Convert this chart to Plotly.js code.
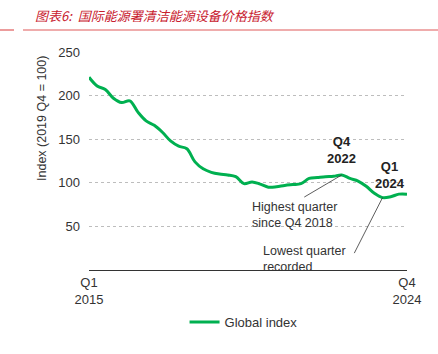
<!DOCTYPE html>
<html>
<head>
<meta charset="utf-8">
<script src="https://cdn.plot.ly/plotly-3.0.1.min.js"></script>
<style>
html,body{margin:0;padding:0;background:#fff;}
#chart{width:438px;height:354px;}
</style>
</head>
<body>
<div id="chart"></div>
<script>
// Quarterly index, Q1 2015 .. Q4 2024 (2019 Q4 = 100)
const quarters = [];
for (let y = 2015; y <= 2024; y++) { for (let q = 1; q <= 4; q++) quarters.push('Q' + q + ' ' + y); }
const globalIndex = [
  221, 211, 207, 197, 192, 194, 181, 171, 166, 158,
  148, 142, 139, 124, 116, 112, 110, 109, 107, 99,
  101, 98.5, 95, 95.5, 97, 98, 99, 105, 106, 107,
  107.5, 109, 105, 102, 96, 88, 83, 84, 87, 87
];
const xTickLabels = ['Q1<br>2015', 'Q4<br>2024'];
const yTicks = [50, 100, 150, 200, 250];

const xIdx = quarters.map((_, i) => i);
const iHigh = quarters.indexOf('Q4 2022');
const iLow = quarters.indexOf('Q1 2024');

const trace = {
  x: xIdx, y: globalIndex, type: 'scatter', mode: 'lines',
  name: 'Global index',
  line: {color: '#00b050', width: 3, shape: 'spline', smoothing: 1},
  hoverinfo: 'skip'
};

const F = 'Liberation Sans, Arial, sans-serif';
const layout = {
  width: 438, height: 354,
  margin: {l: 89, r: 31, t: 52, b: 84},
  paper_bgcolor: '#fff', plot_bgcolor: '#fff',
  font: {family: F, size: 13, color: '#333'},
  showlegend: true,
  legend: {orientation: 'h', x: 0.486, xanchor: 'center', y: -0.17, yanchor: 'top',
           font: {size: 13, color: '#333'}, itemwidth: 30},
  xaxis: {
    range: [0, quarters.length - 1], showgrid: false, zeroline: false,
    showline: true, linecolor: '#333', linewidth: 1,
    tickmode: 'array', tickvals: [0, quarters.length - 1], ticktext: xTickLabels,
    ticks: '', tickfont: {size: 13, color: '#333'}
  },
  yaxis: {
    range: [0, 250], showline: false, zeroline: false,
    showgrid: true, gridcolor: '#bdbdbd', griddash: 'dot', gridwidth: 1,
    tickmode: 'array', tickvals: yTicks, ticks: '', ticklen: 0, ticklabelstandoff: 8,
    tickfont: {size: 13, color: '#333'}
  },
  shapes: [
    {type: 'line', xref: 'paper', yref: 'paper', x0: -89/318, x1: -75/318, y0: 1 + 22/218, y1: 1 + 22/218,
     line: {color: '#e05a5a', width: 1.2}},
    {type: 'line', xref: 'paper', yref: 'paper', x0: -66/318, x1: 1 + 31/318, y0: 1 + 22/218, y1: 1 + 22/218,
     line: {color: '#e05a5a', width: 1.2}}
  ],
  annotations: [
    {text: '<i>图表6:  国际能源署清洁能源设备价格指数</i>', xref: 'paper', yref: 'paper',
     x: -56/318, y: 1 + 37/218, xanchor: 'left', yanchor: 'middle', showarrow: false,
     font: {family: 'Noto Sans CJK SC, sans-serif', size: 13, color: '#c8202e'}},
    {text: 'Index (2019 Q4 = 100)', xref: 'paper', yref: 'paper', textangle: -90,
     x: -47/318, y: (270 - 119) / 218, xanchor: 'center', yanchor: 'middle', showarrow: false,
     font: {size: 12.5, color: '#333'}},
    {text: '<b>Q4<br>2022</b>', x: iHigh, y: globalIndex[iHigh], xref: 'x', yref: 'y',
     showarrow: false, yshift: 7, xanchor: 'center', yanchor: 'bottom',
     font: {size: 13, color: '#222'}},
    {text: '<b>Q1<br>2024</b>', x: iLow, y: globalIndex[iLow], xref: 'x', yref: 'y',
     showarrow: false, xshift: 7.5, yshift: 5, xanchor: 'center', yanchor: 'bottom',
     font: {size: 13, color: '#222'}},
    // leader lines
    {text: '', x: iHigh, y: globalIndex[iHigh], xref: 'x', yref: 'y',
     showarrow: true, arrowhead: 0, arrowwidth: 0.8, arrowcolor: '#333', standoff: 0,
     ax: -39, ay: 23},
    {text: '', x: iLow, y: globalIndex[iLow], xref: 'x', yref: 'y',
     showarrow: true, arrowhead: 0, arrowwidth: 0.8, arrowcolor: '#333', standoff: 0,
     ax: -29, ay: 57},
    {text: 'Highest quarter<br>since Q4 2018', x: iHigh, y: globalIndex[iHigh], xref: 'x', yref: 'y',
     showarrow: false, xshift: -92, yshift: -23, align: 'left', xanchor: 'left', yanchor: 'top',
     font: {size: 12.5, color: '#333'}},
    {text: 'Lowest quarter<br>recorded', x: iLow, y: globalIndex[iLow], xref: 'x', yref: 'y',
     showarrow: false, xshift: -122, yshift: -44, align: 'left', xanchor: 'left', yanchor: 'top',
     font: {size: 12.5, color: '#333'}}
  ]
};

Plotly.newPlot('chart', [trace], layout, {displayModeBar: false, staticPlot: true});
</script>
</body>
</html>
